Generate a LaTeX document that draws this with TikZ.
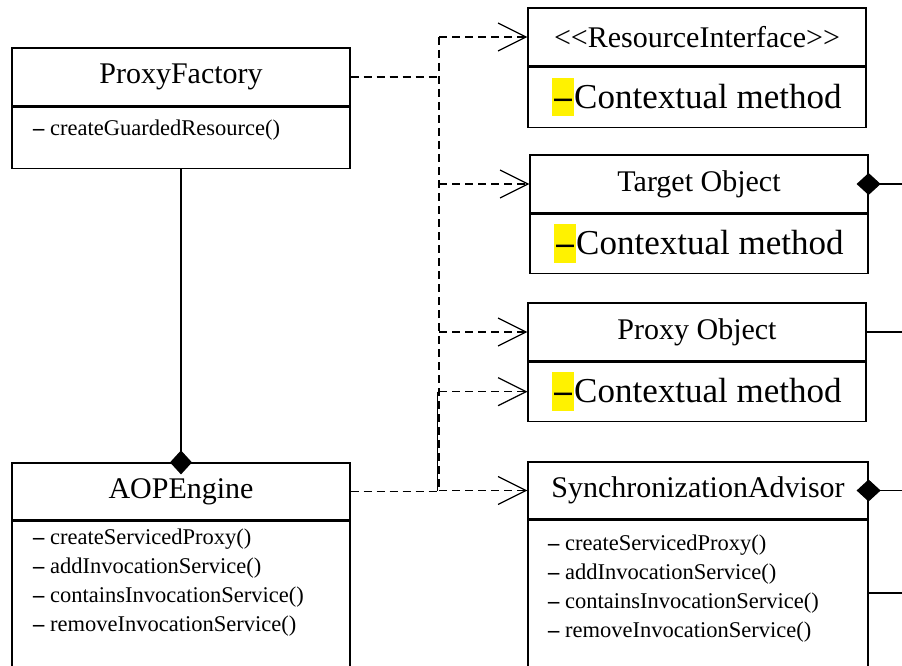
\documentclass[tikz,border=0pt]{standalone}
\usepackage{fontspec}
\setmainfont{Liberation Serif}
\usetikzlibrary{arrows.meta,positioning}

\newcommand{\hldash}{{\setlength{\fboxsep}{0pt}\colorbox{yellow}{\rule[-0.24em]{0pt}{1.1em}\hspace{2pt}\textbf{–}\hspace{2pt}}}}
\newcommand{\mdash}{\textbf{–}\ }

\tikzset{
  classtitle/.style={draw, line width=1.2pt, minimum width=338pt, minimum height=58pt, inner sep=0pt,
    font=\fontsize{30}{36}\selectfont},
  classbody/.style={draw, line width=1.2pt, minimum width=338pt, inner sep=0pt, anchor=north},
  ctxbody/.style={classbody, minimum height=59pt, font=\fontsize{35}{42}\selectfont},
  methods/.style={anchor=west, align=left, inner sep=0pt, font=\fontsize{22.5}{29}\selectfont},
  link/.style={dash pattern=on 8pt off 5pt, line width=1.2pt},
  depends/.style={link, -{Straight Barb[length=28pt,width=28pt,line width=1.2pt]}},
  compose/.style={line width=1.2pt, -{Diamond[length=24pt,width=22pt]}}
}

\begin{document}
\begin{tikzpicture}[x=1pt, y=-1pt]
  \useasboundingbox (0,0) rectangle (902,666);
  \clip (0,0) rectangle (902,666);

  % left column
  \node[classtitle] (pf) at (181,77) {ProxyFactory};
  \node[classbody, minimum height=61pt] (pf-b) at (pf.south) {};
  \node[methods] at (33,130) {\mdash createGuardedResource()};

  \node[classtitle, minimum height=57pt] (aop) at (181,491.5) {AOPEngine};
  \node[classbody, minimum height=200pt] (aop-b) at (aop.south) {};
  \node[methods] at (33,583) {\mdash createServicedProxy()\\\mdash addInvocationService()\\
    \mdash containsInvocationService()\\\mdash removeInvocationService()};

  % right column
  \node[classtitle] (ri) at (697,37) {<{}<ResourceInterface>{}>};
  \node[ctxbody, minimum height=60pt] (ri-b) at (ri.south) {\hldash Contextual method};

  \node[classtitle] (to) at (699,184) {Target Object};
  \node[ctxbody] (to-b) at (to.south) {\hldash Contextual method};

  \node[classtitle] (po) at (697,332) {Proxy Object};
  \node[ctxbody] (po-b) at (po.south) {\hldash Contextual method};

  \node[classtitle, minimum width=340pt, minimum height=57pt] (sa) at (698,490.5) {SynchronizationAdvisor};
  \node[classbody, minimum width=340pt, minimum height=200pt] (sa-b) at (sa.south) {};
  \node[methods] at (548,589) {\mdash createServicedProxy()\\\mdash addInvocationService()\\
    \mdash containsInvocationService()\\\mdash removeInvocationService()};

  \coordinate (trunk) at (439,0);
  \coordinate (trunk2) at (437.5,0);
  \coordinate (edge) at (902,0);
  \coordinate (saport) at (868,593);

  % dependencies
  \draw[link] (pf.east) -- (trunk |- pf.east);
  \draw[link] (aop.east) -- (trunk |- aop.east);
  \draw[link] (trunk |- ri.west) -- (trunk |- sa.west);
  \draw[line width=0.6pt] (trunk2 |- po-b.west) -- (trunk2 |- sa.west);
  \draw[depends] (trunk |- ri.west) -- (ri.west);
  \draw[depends] (trunk |- to.west) -- (to.west);
  \draw[depends] (trunk |- po.west) -- (po.west);
  \draw[depends] (trunk |- po-b.west) -- (po-b.west);
  \draw[depends] (trunk |- sa.west) -- (sa.west);

  % compositions
  \draw[compose] (pf-b.south) -- ([yshift=-12pt]aop.north);
  \draw[compose] (edge |- to.east) -- ([xshift=-12pt]to.east);
  \draw[compose] (edge |- sa.east) -- ([xshift=-12pt]sa.east);
  \draw[line width=1.2pt] (po.east) -- (edge |- po.east);
  \draw[line width=1.2pt] (saport) -- (edge |- saport);
\end{tikzpicture}
\end{document}
